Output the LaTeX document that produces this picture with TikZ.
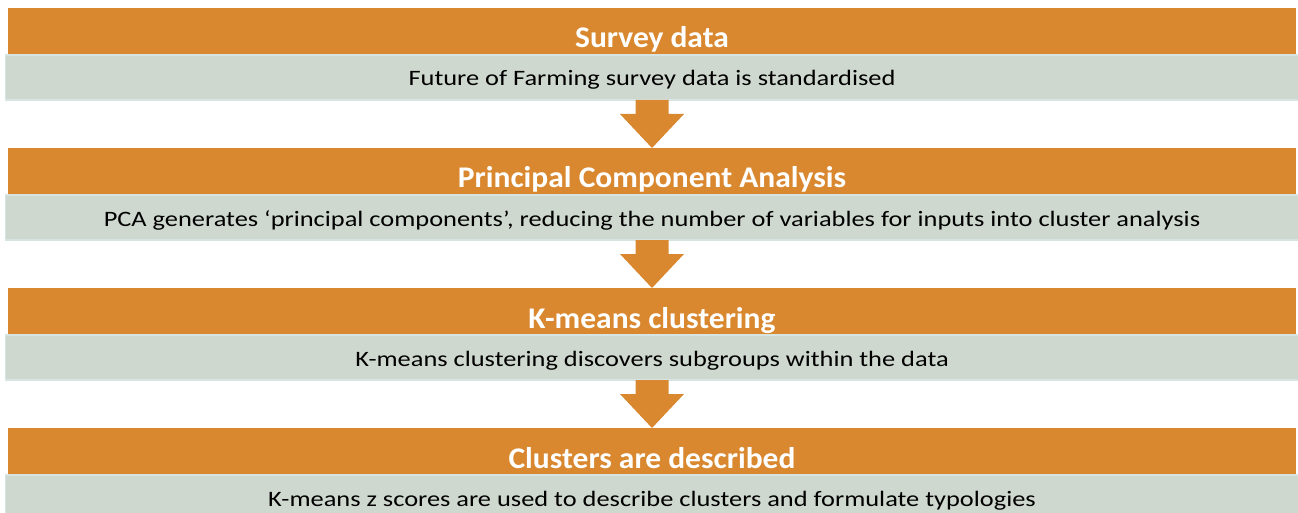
\documentclass[tikz,border=0pt]{standalone}
\usepackage{fontspec}
\setmainfont{Carlito}
\newfontfamily\titlefont[FakeStretch=1.05]{Carlito}
\newfontfamily\descfont[FakeStretch=1.2]{Carlito}
\usetikzlibrary{positioning,calc}

\definecolor{barorange}{HTML}{D9882F}
\definecolor{bargrey}{HTML}{CFD8CE}
\definecolor{barrim}{HTML}{D6E4E4}

\tikzset{
	titlebar/.style={fill=barorange,text=white,font=\titlefont\bfseries\fontsize{30}{34}\selectfont,
		minimum width=1288pt,inner sep=0pt,outer sep=0pt,text height=40pt,text depth=7pt},
	descbar/.style={fill=bargrey,draw=barrim,line width=1.5pt,font=\descfont\fontsize{22}{26}\selectfont,
		minimum width=1293pt,inner sep=0pt,outer sep=0pt,text height=31pt,text depth=14pt},
	flowarrow/.style={fill=barorange},
}

\begin{document}
\begin{tikzpicture}
	\useasboundingbox (0,0) rectangle (1298pt,-513pt);
	
	\node[titlebar,anchor=north] (t1) at (652pt,-8pt) {Survey data}; %step 1
	\node[descbar,below=0pt of t1] (d1) {Future of Farming survey data is standardised};
	
	\node[titlebar,below=48pt of d1] (t2) {Principal Component Analysis}; %step 2
	\node[descbar,below=0pt of t2] (d2) {PCA generates ‘principal components’, reducing the number of variables for inputs into cluster analysis};
	
	\node[titlebar,below=48pt of d2] (t3) {K-means clustering}; %step 3
	\node[descbar,below=0pt of t3] (d3) {K-means clustering discovers subgroups within the data};
	
	\node[titlebar,below=48pt of d3] (t4) {Clusters are described}; %step 4
	\node[descbar,below=0pt of t4] (d4) {K-means z scores are used to describe clusters and formulate typologies};
	
	% block arrows between the steps
	\fill[flowarrow] ($(d1.south)+(-16.5pt,0)$) -- ($(d1.south)+(-16.5pt,-14pt)$) -- ($(d1.south)+(-32pt,-14pt)$) -- (t2.north) -- ($(d1.south)+(32pt,-14pt)$) -- ($(d1.south)+(16.5pt,-14pt)$) -- ($(d1.south)+(16.5pt,0)$) -- cycle; %arrow 1
	\fill[flowarrow] ($(d2.south)+(-16.5pt,0)$) -- ($(d2.south)+(-16.5pt,-14pt)$) -- ($(d2.south)+(-32pt,-14pt)$) -- (t3.north) -- ($(d2.south)+(32pt,-14pt)$) -- ($(d2.south)+(16.5pt,-14pt)$) -- ($(d2.south)+(16.5pt,0)$) -- cycle; %arrow 2
	\fill[flowarrow] ($(d3.south)+(-16.5pt,0)$) -- ($(d3.south)+(-16.5pt,-14pt)$) -- ($(d3.south)+(-32pt,-14pt)$) -- (t4.north) -- ($(d3.south)+(32pt,-14pt)$) -- ($(d3.south)+(16.5pt,-14pt)$) -- ($(d3.south)+(16.5pt,0)$) -- cycle; %arrow 3
\end{tikzpicture}
\end{document}
